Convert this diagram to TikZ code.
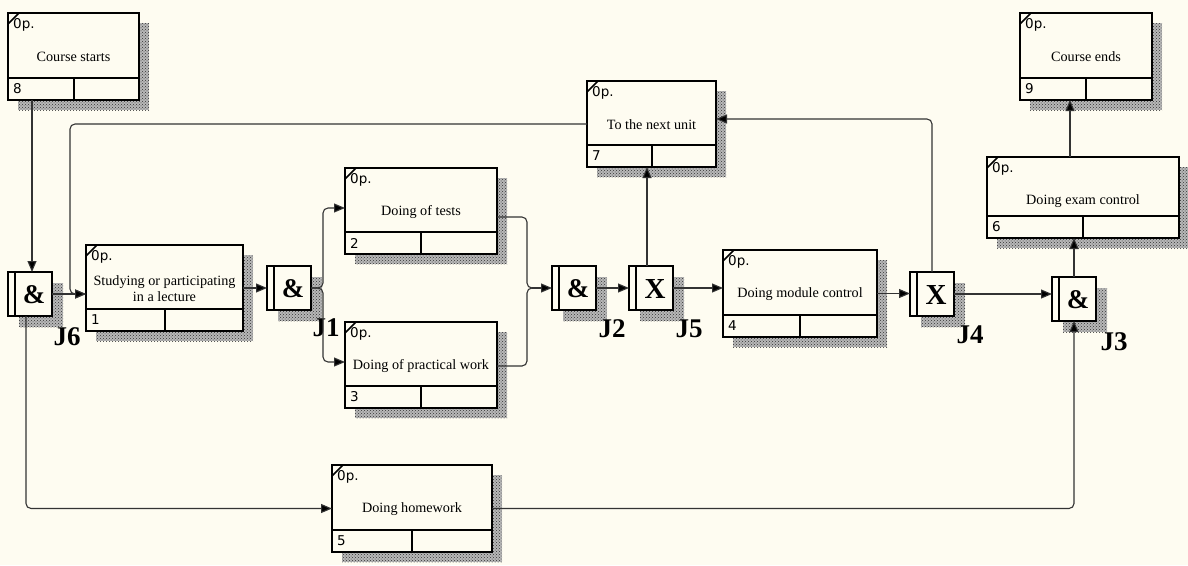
\documentclass[tikz,border=0pt]{standalone}
\usepackage{fontspec}
\setmainfont{Liberation Serif}
\newfontfamily\smallsans{DejaVu Sans}
\usetikzlibrary{arrows.meta,calc,patterns}
\definecolor{bg}{HTML}{FEFCF1}
\definecolor{ln}{HTML}{333333}
\tikzset{
  uow/.style={draw=black, line width=2pt, fill=bg, inner sep=0pt, outer sep=0pt, anchor=north west},
  shade/.style={fill=black!28, postaction={pattern=crosshatch dots, pattern color=black!80}},
  cell/.style={line width=2pt, draw=black},
  tag/.style={font=\smallsans\fontsize{13.5}{15}\selectfont, anchor=west, inner sep=0pt},
  lbl/.style={font=\fontsize{14.2}{16}\selectfont, align=center, inner sep=0pt},
  conn/.style={draw=ln, line width=1.1pt, rounded corners=5pt},
  arr/.style={conn, -{Triangle[length=11pt,width=9pt,fill=black]}},
  jsym/.style={font=\bfseries\fontsize{#1}{#1}\selectfont, inner sep=0pt},
  jname/.style={font=\bfseries\fontsize{27}{27}\selectfont, inner sep=0pt},
}
\newcommand\uowbox[7]{%
  \fill[shade] (#2+10,#3+10) rectangle (#4+10,#5+10);
  \node[uow, minimum width={(#4-#2)*1pt}, minimum height={(#5-#3)*1pt}] (#1) at (#2,#3) {};
  \draw[cell] (#2,#5-22) -- (#4,#5-22) (#2/2+#4/2,#5-22) -- (#2/2+#4/2,#5);
  \draw[line width=1.6pt] (#2,#3+11) -- (#2+11,#3);
  \node[tag] at (#2+5,#3+12) {0p.};
  \node[lbl] at (#2/2+#4/2,#3+44) {#6};
  \node[tag] at (#2+5,#5-11) {#7};
}
\newcommand\juncbox[5]{%
  \fill[shade] (#2+11,#3+11) rectangle (#2+55,#3+55);
  \node[uow, minimum width=44pt, minimum height=44pt] (#1) at (#2,#3) {};
  \draw[cell] (#2+7,#3) -- (#2+7,#3+44);
  \node[jsym=#5] at (#2+26,#3+23) {#4};
}
\begin{document}
\begin{tikzpicture}[x=1pt,y=-1pt]
\fill[bg] (0,0) rectangle (1188,565);
\useasboundingbox (0,0) rectangle (1188,565);

\uowbox{cs}{8}{13}{139}{100}{Course starts}{8}
\uowbox{st}{86}{245}{243}{331}{Studying or participating\\in a lecture}{1}
\uowbox{tt}{345}{168}{497}{254}{Doing of tests}{2}
\uowbox{pw}{345}{322}{497}{408}{Doing of practical work}{3}
\uowbox{nx}{587}{81}{716}{167}{To the next unit}{7}
\uowbox{md}{723}{250}{877}{337}{Doing module control}{4}
\uowbox{hw}{332}{465}{492}{552}{Doing homework}{5}
\uowbox{ex}{987}{157}{1179}{238}{Doing exam control}{6}
\uowbox{ce}{1020}{13}{1152}{100}{Course ends}{9}

\juncbox{j6}{8}{272}{\&}{27}
\juncbox{j1}{267}{266}{\&}{27}
\juncbox{j2}{552}{266}{\&}{27}
\juncbox{j5}{629}{266}{X}{29}
\juncbox{j4}{910}{272}{X}{29}
\juncbox{j3}{1052}{277}{\&}{27}

\node[jname] (l6) at (67,337) {J6};
\node[jname] (l1) at (326,328) {J1};
\node[jname] (l2) at (612,329) {J2};
\node[jname] (l5) at (689,329) {J5};
\node[jname] (l4) at (970,335) {J4};
\node[jname] (l3) at (1114,342) {J3};

\coordinate (mg) at (532,288);
\coordinate (exo) at ($(ex.north)+(-13,0)$);

\draw[arr] ($(cs.south -| j6.north)+(2,0)$) -- ($(j6.north)+(2,0)$);
\draw[arr] (j6.east) -- (j6.east -| st.west);
\draw[arr] (nx.west) -| ($(j6.east -| st.west)+(-16,0)$) -- (j6.east -| st.west);
\draw[arr] ($(j6.south)+(-4,0)$) |- (hw.west);
\draw[arr] (st.east) -- (st.east -| j1.west);
\draw[arr] (j1.east) -- ++(12,0) |- ($(tt.west)+(0,-3)$);
\draw[arr] (j1.east) -- ++(12,0) |- ($(pw.west)+(0,-3)$);
\draw[conn] ($(tt.east)+(0,6)$) -| ($(mg)+(-5,0)$) -- (mg);
\draw[conn] ($(pw.east)+(0,1)$) -| ($(mg)+(-5,0)$) -- (mg);
\draw[arr] (mg) -- (mg -| j2.west);
\draw[arr] (j2.east) -- (j5.west);
\draw[arr] (j5.east) -- (j5.east -| md.west);
\draw[arr] ($(j5.north)+(-4,0)$) -- ($(j5.north |- nx.south)+(-4,0)$);
\draw[arr] (md.east) -- (md.east -| j4.west);
\draw[arr] (j4.north) |- ($(nx.east)+(0,-5)$);
\draw[arr] (j4.east) -- (j4.east -| j3.west);
\draw[arr] (j3.north) -- (j3.north |- ex.south);
\draw[arr] (hw.east) -| (j3.south);
\draw[arr] (exo) -- (exo |- ce.south);
\end{tikzpicture}
\end{document}
